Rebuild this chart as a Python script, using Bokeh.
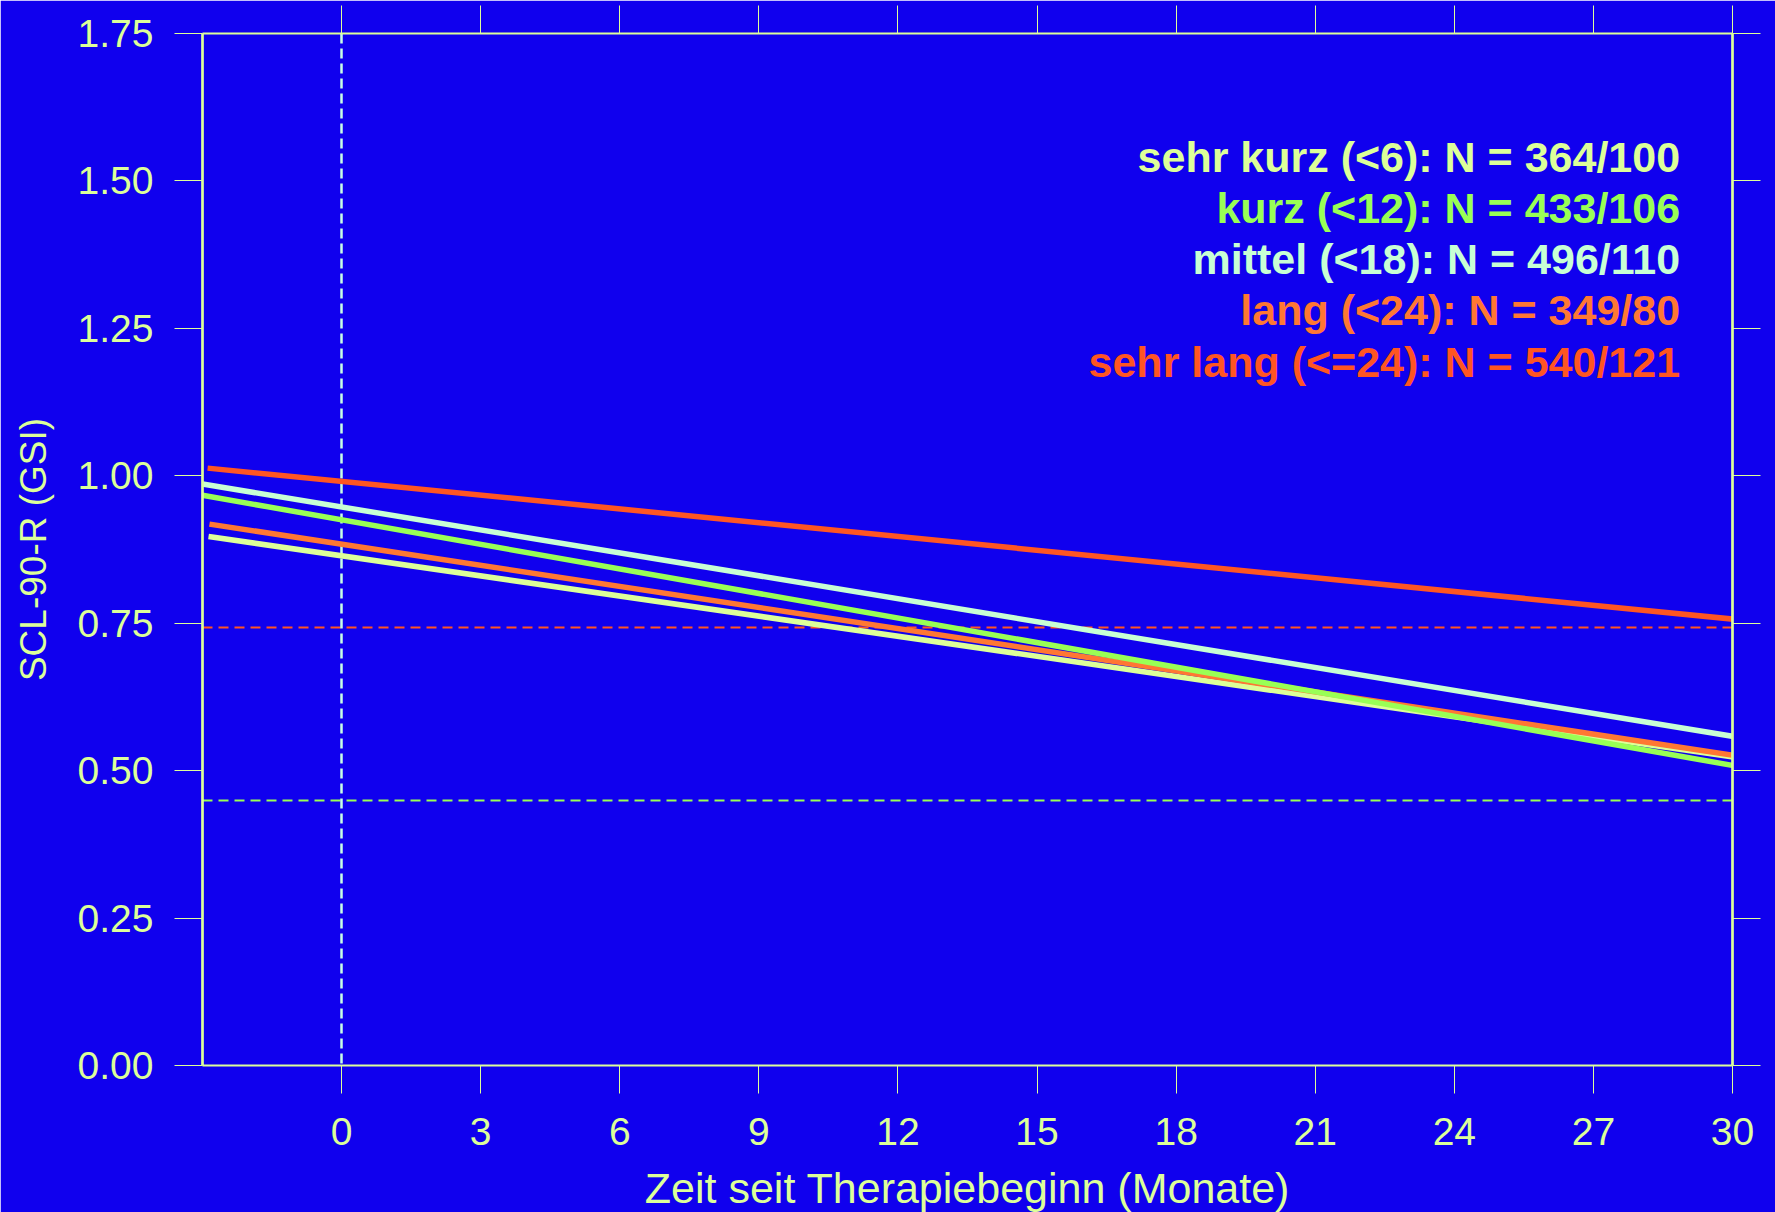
from bokeh.plotting import figure
from bokeh.models import Range1d, LinearAxis, FixedTicker, Label, PrintfTickFormatter, CustomJSTickFormatter
from bokeh.embed import file_html
from bokeh.resources import INLINE

# ---------------- data ----------------
groups = ["sehr kurz (<6)", "kurz (<12)", "mittel (<18)", "lang (<24)", "sehr lang (<=24)"]
n_obs = [364, 433, 496, 349, 540]
n_pat = [100, 106, 110, 80, 121]
x_start = [-2.87, -3.0, -3.0, -2.85, -2.89]
y_start = [0.897, 0.967, 0.986, 0.918, 1.013]
x_end = [30.10, 30.06, 30.17, 30.09, 30.13]
y_end = [0.522, 0.508, 0.556, 0.525, 0.756]
ref_levels = [0.743, 0.449]
time_zero = [0]
x_ticks = [0, 3, 6, 9, 12, 15, 18, 21, 24, 27, 30]
y_ticks = [0.0, 0.25, 0.5, 0.75, 1.0, 1.25, 1.5, 1.75]

# ---------------- styles ----------------
bg = "#1000EE"
fg = "#DDFF99"
colors = ["#DDFF99", "#99FF55", "#C8FFD4", "#FF7733", "#FF5522"]
ref_colors = ["#FF5522", "#99FF55"]
vline_color = "#C8FFE4"
font = "Liberation Sans"

p = figure(frame_width=1530, frame_height=1032,
           min_border_left=202, min_border_right=43, min_border_top=33, min_border_bottom=147,
           x_range=Range1d(-3, 30), y_range=Range1d(0, 1.75),
           output_backend="svg", toolbar_location=None,
           background_fill_color=bg, border_fill_color=bg,
           x_axis_location=None, y_axis_location=None)
p.outline_line_color = None
p.grid.visible = False


def style_axis(ax, line_width, labels=True):
    ax.axis_line_color = fg
    ax.axis_line_width = line_width
    ax.major_tick_line_color = fg
    ax.major_tick_line_width = 1
    ax.major_tick_out = 28
    ax.major_tick_in = 0
    ax.minor_tick_line_color = None
    if labels:
        ax.major_label_text_color = fg
        ax.major_label_text_font = font
        ax.major_label_text_font_size = "39px"
    else:
        ax.formatter = CustomJSTickFormatter(code="return ''")


bottom = LinearAxis(ticker=FixedTicker(ticks=x_ticks), axis_label="Zeit seit Therapiebeginn (Monate)")
style_axis(bottom, 2)
bottom.major_label_standoff = 24
bottom.axis_label_standoff = 16
bottom.axis_label_text_color = fg
bottom.axis_label_text_font = font
bottom.axis_label_text_font_style = "normal"
bottom.axis_label_text_font_size = "43px"
p.add_layout(bottom, "below")

left = LinearAxis(ticker=FixedTicker(ticks=y_ticks), axis_label="SCL-90-R (GSI)",
                  formatter=PrintfTickFormatter(format="%.2f"))
style_axis(left, 2.7)
left.major_label_standoff = 21
left.axis_label_standoff = 21
left.axis_label_text_color = fg
left.axis_label_text_font = font
left.axis_label_text_font_style = "normal"
left.axis_label_text_font_size = "37px"
p.add_layout(left, "left")

top = LinearAxis(ticker=FixedTicker(ticks=x_ticks))
style_axis(top, 2, labels=False)
top.major_label_standoff = 0
p.add_layout(top, "above")

right = LinearAxis(ticker=FixedTicker(ticks=y_ticks))
style_axis(right, 2.7, labels=False)
right.major_label_standoff = 0
p.add_layout(right, "right")

# reference lines
for lvl, c in zip(ref_levels, ref_colors):
    p.hspan(y=[lvl], line_color=c, line_width=2, line_dash="10 6")
p.vspan(x=time_zero, line_color=vline_color, line_width=2.5, line_dash="10 5")

# regression lines (drawing order as in the picture)
draw_order = [0, 3, 1, 2, 4]
for i in draw_order:
    p.line(x=[x_start[i], x_end[i]], y=[y_start[i], y_end[i]],
           line_color=colors[i], line_width=5.5)

# legend texts, right aligned
legend_x = 28.87
legend_top = 1.541
legend_step = 0.0869
for i, g in enumerate(groups):
    p.add_layout(Label(x=legend_x, y=legend_top - i * legend_step,
                       text=f"{g}: N = {n_obs[i]}/{n_pat[i]}",
                       text_align="right", text_baseline="middle",
                       text_color=colors[i], text_font=font, text_font_style="bold",
                       text_font_size="43px"))

open("out.html", "w").write(file_html(p, INLINE))
